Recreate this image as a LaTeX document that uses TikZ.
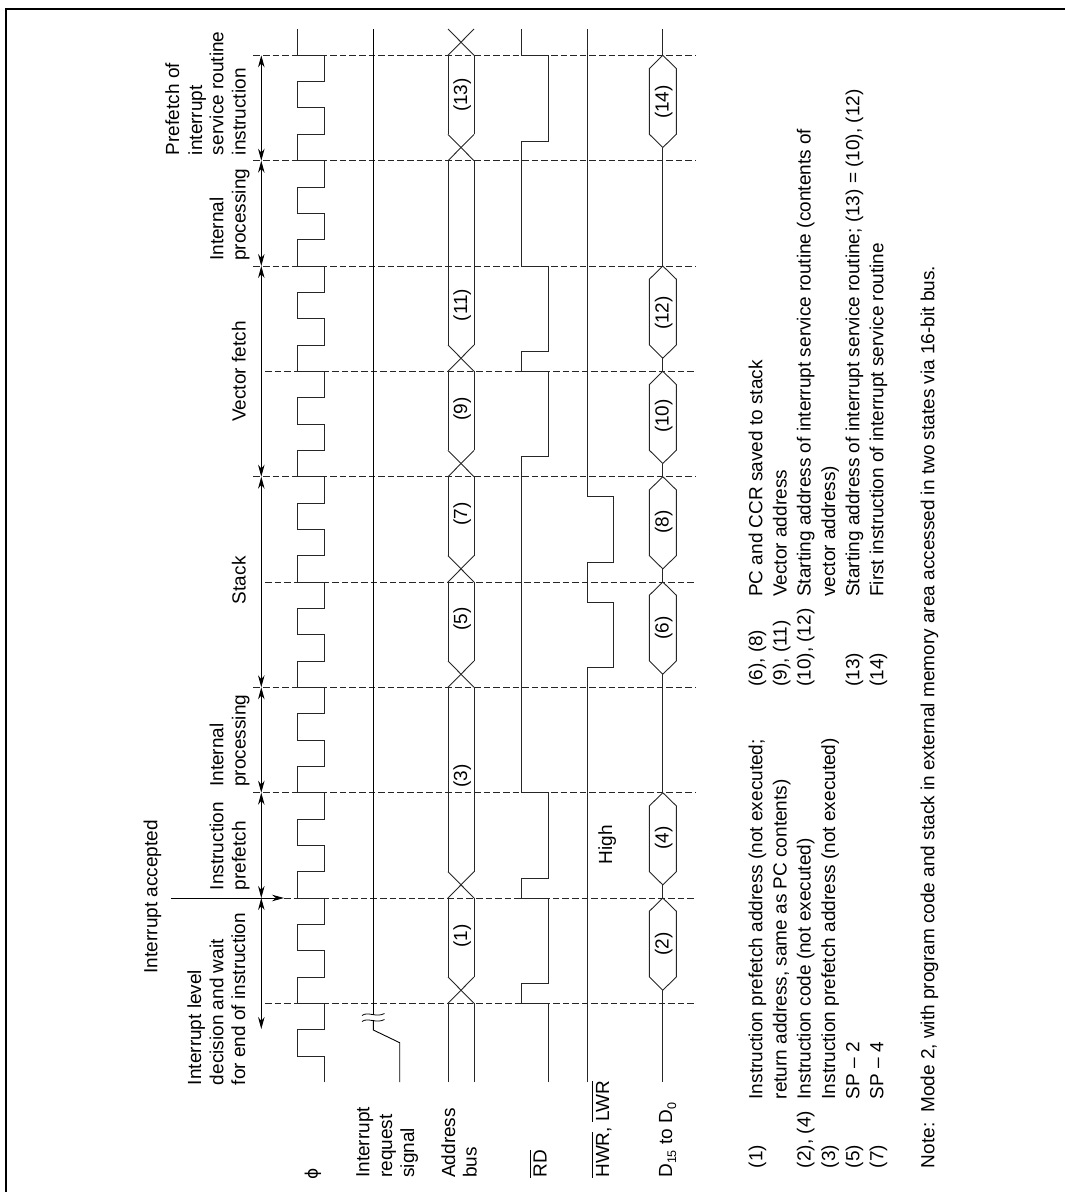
\documentclass[tikz,border=0pt]{standalone}
\usepackage{fontspec}
\setmainfont{Liberation Sans}
\newfontfamily\phifont{DejaVu Sans}
\usetikzlibrary{arrows.meta}
\newcommand\ovl[1]{\setbox0\hbox{#1}\rlap{\rule[16.3pt]{\wd0}{0.8pt}}\box0}
\tikzset{
  txt/.style={rotate=90,anchor=base west,inner sep=0pt,outer sep=0pt,font=\fontsize{19}{23}\selectfont},
  num/.style={rotate=90,anchor=base,inner sep=0pt,outer sep=0pt,font=\fontsize{19}{23}\selectfont},
  sig/.style={line width=0.9pt,line join=miter,color=black!85},
  guide/.style={line width=0.9pt,dash pattern=on 6.5pt off 3.1pt,color=black!85},
  spanarrow/.style={line width=0.9pt,{Stealth[length=12pt,width=6.5pt]}-{Stealth[length=12pt,width=6.5pt]}},
  frameline/.style={line width=2pt,color=black}
}
\begin{document}
\begin{tikzpicture}[x=1pt,y=-1pt]
\useasboundingbox (0,0) rectangle (1065,1192);
% frame
\draw[frameline] (1065,9) -- (6,9) -- (6,1192);
% dashed guides
\foreach \y/\l in {55.3/253.4,160.7/253.4,266/253.4,371.3/265,476.7/253.4,582/265,687.3/253.4,792.7/253.4,898/284,1003.3/265}
  \draw[guide] (\l,\y) -- (695.6,\y);
% interval arrows
\foreach \a/\b in {55.3/160.7,160.7/266,266/476.7,476.7/687.3,687.3/792.7,792.7/898,898/1029}
  \draw[spanarrow] (261.3,\a) -- (261.3,\b);
\coordinate (acceptS) at (171,898);
\coordinate (acceptE) at (284,898);
\draw[line width=0.9pt,-{Stealth[length=12pt,width=6.5pt]}] (acceptS) -- (acceptE);
% clock
\draw[sig] (324.3,1082) -- (324.3,1056)
  foreach \k in {1,...,19} { -- ++(-26.6,0) -- ++(0,-26.33) -- ++(26.6,0) -- ++(0,-26.34) }
  -- ++(-26.6,0) -- (297.7,29);
% interrupt request
\draw[line width=0.9pt] (373.3,29) -- (373.3,1015);
\draw[line width=0.9pt] (373.3,1020) -- (373.3,1030) -- (399.7,1042.7) -- (399.7,1082);
\draw[line width=0.8pt] (362,1015.5) .. controls (368,1011) and (376,1018) .. (384.5,1013.5);
\draw[line width=0.8pt] (362,1021.5) .. controls (368,1017) and (376,1024) .. (384.5,1019.5);
% address bus
\foreach \a/\b in {1082/1003.3,977/898,871.7/687.3,661/582,555.7/476.7,450.4/371.3,345/160.7,134.4/55.3}{
  \draw[sig] (448,\a) -- (448,\b);
  \draw[sig] (474,\a) -- (474,\b);
}
\foreach \a/\b in {1003.3/977,898/871.7,687.3/661,582/555.7,476.7/450.4,371.3/345,160.7/134.4,55.3/29}{
  \draw[sig] (448,\a) -- (474,\b);
  \draw[sig] (474,\a) -- (448,\b);
}
% RD
\draw[sig] (548,1082) -- (548,1003.3) -- (521.7,1003.3) -- (521.7,983.3) -- (548,983.3) -- (548,898)
  -- (521.7,898) -- (521.7,878.3) -- (548,878.3) -- (548,792.7) -- (521.7,792.7) -- (521.7,456.7)
  -- (548,456.7) -- (548,371.3) -- (521.7,371.3) -- (521.7,351.7) -- (548,351.7) -- (548,266)
  -- (521.7,266) -- (521.7,141.7) -- (548,141.7) -- (548,55.3) -- (521.7,55.3) -- (521.7,29);
% HWR
\draw[sig] (587,1082) -- (587,667.7) -- (613.4,667.7) -- (613.4,602) -- (587,602) -- (587,562.3)
  -- (613.4,562.3) -- (613.4,496.7) -- (587,496.7) -- (587,29);
% data bus
\foreach \t in {55.3,266,371.3,476.7,582,792.7,898}
  \draw[sig] (662.8,\t) -- (676.3,\t+13.17) -- (676.3,\t+79) -- (662.8,\t+92.17)
    -- (649.4,\t+79) -- (649.4,\t+13.17) -- cycle;
\foreach \a/\b in {29/55.3,147.5/266,358.2/371.3,463.5/476.7,568.9/582,674.2/792.7,884.9/898,990.2/1082}
  \draw[sig] (662.8,\a) -- (662.8,\b);
% bus numbers
\foreach \n/\y in {1/936,3/776,5/619,7/514,9/409,11/305,13/95}
  \node[num] (addr\n) at (467,\y) {(\n)};
\foreach \n/\y in {2/944,4/838,6/628,8/522,10/416,12/313,14/102}
  \node[num] (data\n) at (668.5,\y) {(\n)};
\node[txt] (high) at (612,864.3) {High};
% signal names
\node[rotate=90,anchor=center,inner sep=0pt,font=\phifont\fontsize{17}{20}\selectfont] (phi) at (313,1173.5) {\char"03D5};
\node[txt] (irq1) at (369.3,1177.7) {Interrupt};
\node[txt] (irq2) at (392,1177.7) {request};
\node[txt] (irq3) at (414,1177.7) {signal};
\node[txt] (ab1) at (455,1177.7) {Address};
\node[txt] (ab2) at (476.7,1177.7) {bus};
\node[txt] (rd) at (546.7,1177.7) {\ovl{RD}};
\node[txt] (wr) at (609,1177.7) {\ovl{HWR}, \ovl{LWR}};
\node[txt] (dd) at (672,1177.7) {D\raisebox{-4pt}{\fontsize{12.5}{14}\selectfont 15} to D\raisebox{-4pt}{\fontsize{12.5}{14}\selectfont 0}};
% phase labels
\node[txt] (acc) at (157.3,973.3) {Interrupt accepted};
\node[txt] (p1a) at (201,1085) {Interrupt level};
\node[txt] (p1b) at (223.3,1085) {decision and wait};
\node[txt] (p1c) at (245,1085) {for end of instruction};
\node[txt] (p2a) at (223.3,890) {Instruction};
\node[txt] (p2b) at (245.5,890) {prefetch};
\node[txt] (p3a) at (223.3,786.7) {Internal};
\node[txt] (p3b) at (245.5,786.7) {processing};
\node[txt] (p4) at (245.5,604) {Stack};
\node[txt] (p5) at (245.5,421.7) {Vector fetch};
\node[txt] (p6a) at (223.3,260.7) {Internal};
\node[txt] (p6b) at (245.5,260.7) {processing};
\node[txt] (p7a) at (179,155) {Prefetch of};
\node[txt] (p7b) at (202,155) {interrupt};
\node[txt] (p7c) at (223.3,155) {service routine};
\node[txt] (p7d) at (245.5,155) {instruction};
% legend, first column
\node[txt] (l1k) at (762.3,1168) {(1)};
\node[txt] (l1) at (762.3,1099.3) {Instruction prefetch address (not executed;};
\node[txt] (l1x) at (786.7,1099.3) {return address, same as PC contents)};
\node[txt] (l2k) at (810.7,1168) {(2), (4)};
\node[txt] (l2) at (810.7,1099.3) {Instruction code (not executed)};
\node[txt] (l3k) at (835,1168) {(3)};
\node[txt] (l3) at (835,1099.3) {Instruction prefetch address (not executed)};
\node[txt] (l4k) at (859.3,1168) {(5)};
\node[txt] (l4) at (859.3,1099.3) {SP – 2};
\node[txt] (l5k) at (883.3,1168) {(7)};
\node[txt] (l5) at (883.3,1099.3) {SP – 4};
% legend, second column
\node[txt] (r1k) at (762.3,686.7) {(6), (8)};
\node[txt] (r1) at (762.3,596.7) {PC and CCR saved to stack};
\node[txt] (r2k) at (786.7,686.7) {(9), (11)};
\node[txt] (r2) at (786.7,596.7) {Vector address};
\node[txt] (r3k) at (810.7,686.7) {(10), (12)};
\node[txt] (r3) at (810.7,596.7) {Starting address of interrupt service routine (contents of};
\node[txt] (r3x) at (835,596.7) {vector address)};
\node[txt] (r4k) at (859.3,686.7) {(13)};
\node[txt] (r4) at (859.3,596.7) {Starting address of interrupt service routine; (13) = (10), (12)};
\node[txt] (r5k) at (883.3,686.7) {(14)};
\node[txt] (r5) at (883.3,596.7) {First instruction of interrupt service routine};
% note
\node[txt] (nk) at (934.3,1168) {Note:};
\node[txt] (n) at (934.3,1112.7) {Mode 2, with program code and stack in external memory area accessed in two states via 16-bit bus.};
\end{tikzpicture}
\end{document}
